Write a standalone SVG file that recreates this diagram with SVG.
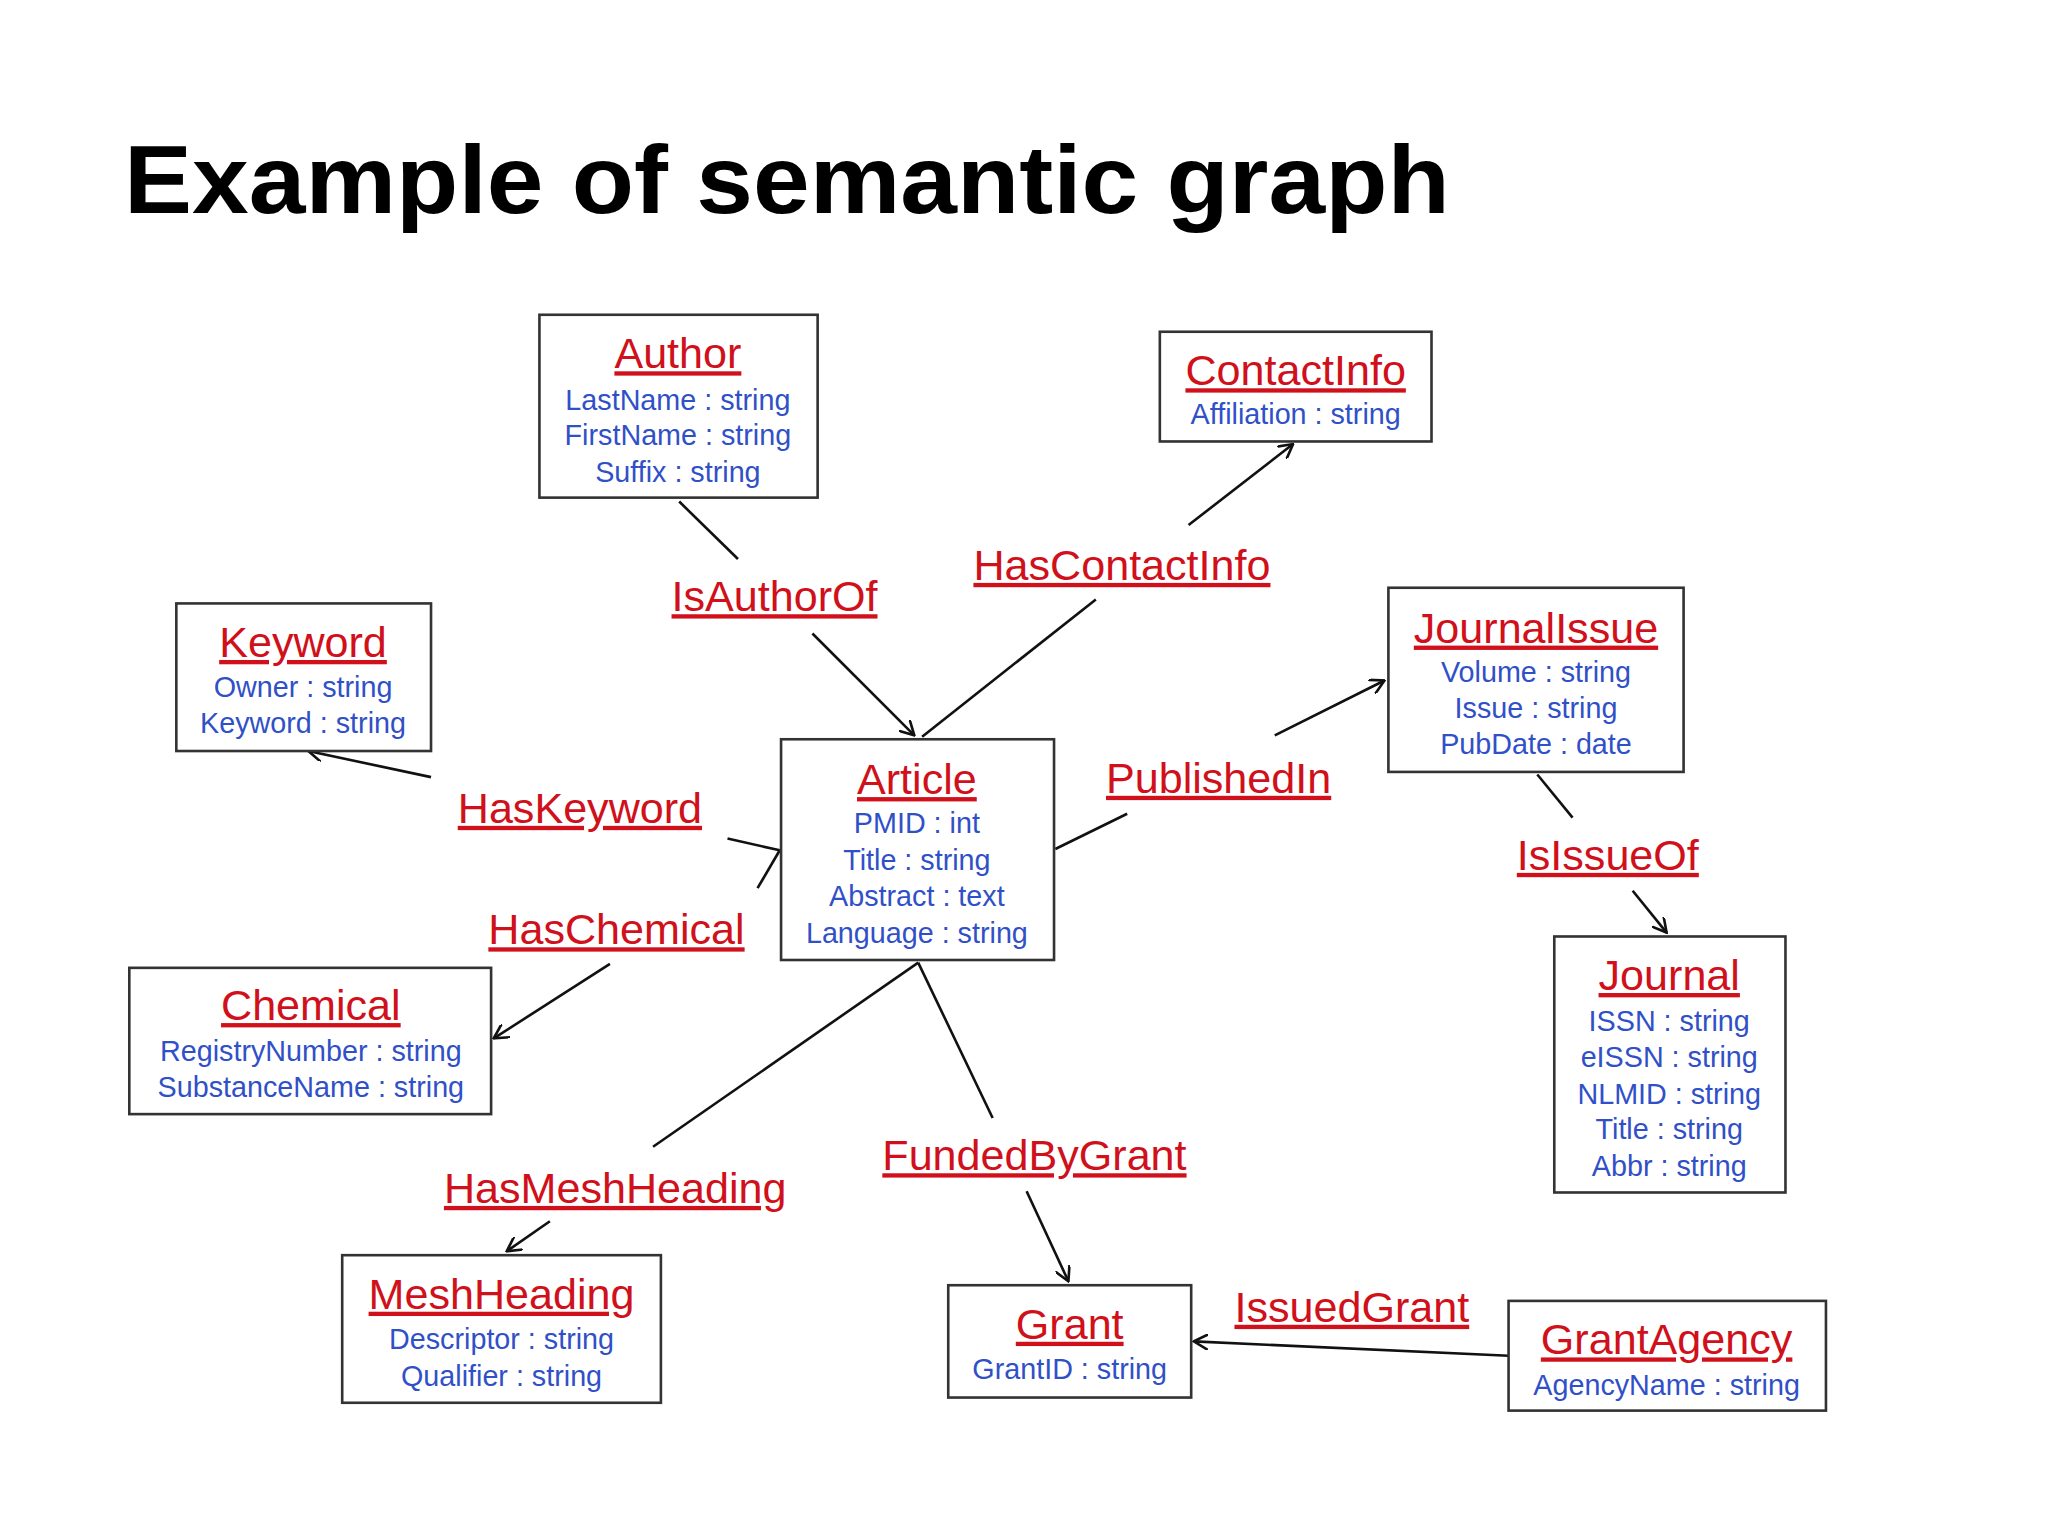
<svg xmlns="http://www.w3.org/2000/svg" width="2048" height="1536" viewBox="0 0 2048 1536">
<style>
.box{fill:#fff;stroke:#333;stroke-width:2}
.nm{font-family:"Liberation Sans",Arial,sans-serif;font-size:33px;fill:#d0101a;text-anchor:middle;text-decoration:underline}
.at{font-family:"Liberation Sans",Arial,sans-serif;font-size:22px;fill:#3050c8;text-anchor:middle}
.lb{font-family:"Liberation Sans",Arial,sans-serif;font-size:33px;fill:#d0101a;text-anchor:middle;text-decoration:underline}
.ln{stroke:#111;stroke-width:2;fill:none}
.ttl{font-family:"Liberation Sans",Arial,sans-serif;font-size:74px;font-weight:bold;fill:#000}
</style>
<defs>
<marker id="ar" viewBox="0 0 12 12" refX="11" refY="6" markerWidth="12" markerHeight="12" markerUnits="userSpaceOnUse" orient="auto">
<path d="M0,0 L11,6 L0,12" fill="none" stroke="#111" stroke-width="2"/>
</marker>
</defs>
<rect width="2048" height="1536" fill="#fff"/>
<g transform="scale(1.30612)">
<text class="ttl" x="95" y="163" textLength="1015" lengthAdjust="spacingAndGlyphs">Example of semantic graph</text>
<g id="connectors">
<path class="ln" d="M520,384 L565,428"/><path class="ln" d="M622,485 L700,563" marker-end="url(#ar)"/>
<path class="ln" d="M706,564 L839,459"/><path class="ln" d="M910,402 L990,340" marker-end="url(#ar)"/>
<path class="ln" d="M557,642 L597,651"/><path class="ln" d="M330,595 L236,575" marker-end="url(#ar)"/>
<path class="ln" d="M580,680 L597,651"/><path class="ln" d="M467,738 L378,795" marker-end="url(#ar)"/>
<path class="ln" d="M808,650 L863,623"/><path class="ln" d="M976,563 L1060,521" marker-end="url(#ar)"/>
<path class="ln" d="M1177,593 L1204,626"/><path class="ln" d="M1250,682 L1276,714" marker-end="url(#ar)"/>
<path class="ln" d="M703,737 L500,878"/><path class="ln" d="M421,935 L388,958" marker-end="url(#ar)"/>
<path class="ln" d="M703,737 L760,856"/><path class="ln" d="M786,912 L818,981" marker-end="url(#ar)"/>
<path class="ln" d="M1155,1038 L914,1027" marker-end="url(#ar)"/>
<text class="lb" x="593" y="468">IsAuthorOf</text>
<text class="lb" x="859" y="444">HasContactInfo</text>
<text class="lb" x="444" y="630">HasKeyword</text>
<text class="lb" x="933" y="607">PublishedIn</text>
<text class="lb" x="1231" y="666">IsIssueOf</text>
<text class="lb" x="472" y="723">HasChemical</text>
<text class="lb" x="792" y="896">FundedByGrant</text>
<text class="lb" x="471" y="921">HasMeshHeading</text>
<text class="lb" x="1035" y="1012">IssuedGrant</text>
</g>
<g id="author"><rect class="box" x="413" y="241" width="213" height="140"/><text class="nm" x="519" y="282">Author</text><text class="at" x="519" y="314">LastName : string</text><text class="at" x="519" y="341">FirstName : string</text><text class="at" x="519" y="369">Suffix : string</text></g>
<g id="contactinfo"><rect class="box" x="888" y="254" width="208" height="84"/><text class="nm" x="992" y="295">ContactInfo</text><text class="at" x="992" y="325">Affiliation : string</text></g>
<g id="keyword"><rect class="box" x="135" y="462" width="195" height="113"/><text class="nm" x="232" y="503">Keyword</text><text class="at" x="232" y="534">Owner : string</text><text class="at" x="232" y="561">Keyword : string</text></g>
<g id="journalissue"><rect class="box" x="1063" y="450" width="226" height="141"/><text class="nm" x="1176" y="492">JournalIssue</text><text class="at" x="1176" y="522">Volume : string</text><text class="at" x="1176" y="550">Issue : string</text><text class="at" x="1176" y="577">PubDate : date</text></g>
<g id="article"><rect class="box" x="598" y="566" width="209" height="169"/><text class="nm" x="702" y="608">Article</text><text class="at" x="702" y="638">PMID : int</text><text class="at" x="702" y="666">Title : string</text><text class="at" x="702" y="694">Abstract : text</text><text class="at" x="702" y="722">Language : string</text></g>
<g id="chemical"><rect class="box" x="99" y="741" width="277" height="112"/><text class="nm" x="238" y="781">Chemical</text><text class="at" x="238" y="812">RegistryNumber : string</text><text class="at" x="238" y="840">SubstanceName : string</text></g>
<g id="journal"><rect class="box" x="1190" y="717" width="177" height="196"/><text class="nm" x="1278" y="758">Journal</text><text class="at" x="1278" y="789">ISSN : string</text><text class="at" x="1278" y="817">eISSN : string</text><text class="at" x="1278" y="845">NLMID : string</text><text class="at" x="1278" y="872">Title : string</text><text class="at" x="1278" y="900">Abbr : string</text></g>
<g id="meshheading"><rect class="box" x="262" y="961" width="244" height="113"/><text class="nm" x="384" y="1002">MeshHeading</text><text class="at" x="384" y="1033">Descriptor : string</text><text class="at" x="384" y="1061">Qualifier : string</text></g>
<g id="grant"><rect class="box" x="726" y="984" width="186" height="86"/><text class="nm" x="819" y="1025">Grant</text><text class="at" x="819" y="1056">GrantID : string</text></g>
<g id="grantagency"><rect class="box" x="1155" y="996" width="243" height="84"/><text class="nm" x="1276" y="1037">GrantAgency</text><text class="at" x="1276" y="1068">AgencyName : string</text></g>
</g>
</svg>
